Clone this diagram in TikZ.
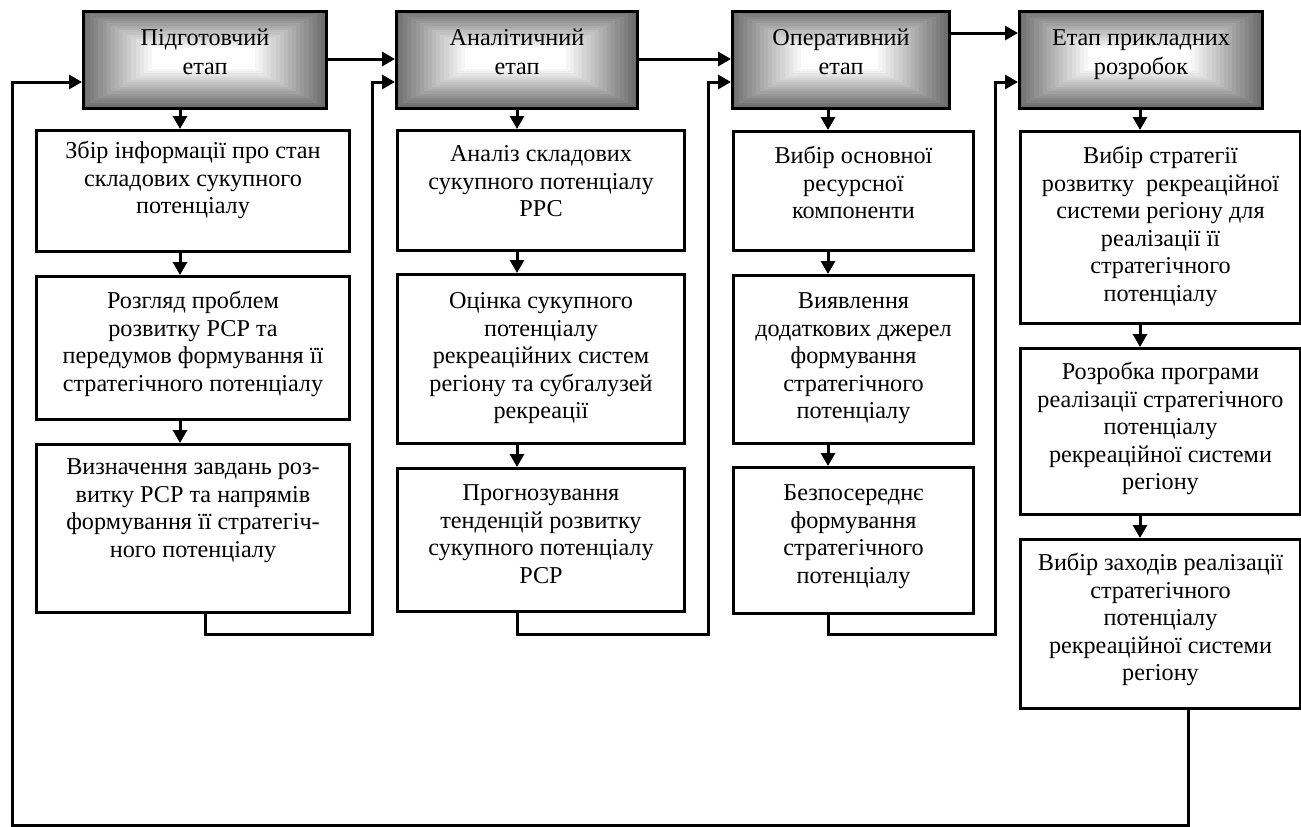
\documentclass[tikz,border=0pt]{standalone}
\usepackage{fontspec}
\setmainfont{Liberation Serif}
\usetikzlibrary{arrows.meta}
\newcommand\boxtext[4]{\parbox[c][#2][t]{#1}{\centering\rule{0pt}{#3}#4\par}}
\newcommand\hshade[4]{%
  \foreach \i in {0,...,17}{%
    \pgfmathsetmacro\myt{\i/17}%
    \pgfmathsetmacro\myc{57*(1-\myt)}%
    \fill[black!\myc] ({#1+70*\myt},{#2+38*\myt}) rectangle ({#3-70*\myt},{#4-38*\myt});
  }}
\tikzset{
  cbox/.style={draw, line width=3pt, inner sep=0pt, anchor=north west, fill=white,
    font=\fontsize{24.2}{27.6}\selectfont},
  hbox/.style={draw, line width=3pt, inner sep=0pt, anchor=north west,
    font=\fontsize{24.2}{29}\selectfont},
  arr/.style={line width=3pt, -{Triangle[length=13pt,width=14pt]}},
}
\begin{document}
\begin{tikzpicture}[x=1pt,y=-1pt]
\useasboundingbox (0,0) rectangle (1301,827);
\fill[white] (0,0) rectangle (1301,827);

% header shading
\hshade{82}{10}{325}{107}
\hshade{395}{10}{636}{107}
\hshade{731}{10}{948}{107}
\hshade{1018}{10}{1261}{107}

% headers
\node[hbox] (H1) at (82,10) {\boxtext{243pt}{97pt}{34pt}{Підготовчий\\етап}};
\node[hbox] (H2) at (395,10) {\boxtext{241pt}{97pt}{34pt}{Аналітичний\\етап}};
\node[hbox] (H3) at (731,10) {\boxtext{217pt}{97pt}{34pt}{Оперативний\\етап}};
\node[hbox] (H4) at (1018,10) {\boxtext{243pt}{97pt}{34pt}{Етап прикладних\\розробок}};

% column 1
\node[cbox] (B11) at (35,129) {\boxtext{313pt}{121pt}{28pt}{Збір інформації про стан\\складових сукупного\\потенціалу}};
\node[cbox] (B12) at (35,275) {\boxtext{313pt}{143pt}{32pt}{Розгляд проблем\\розвитку РСР та\\передумов формування її\\стратегічного потенціалу}};
\node[cbox] (B13) at (35,443) {\boxtext{313pt}{168pt}{30pt}{Визначення завдань роз-\\витку РСР та напрямів\\формування її стратегіч-\\ного потенціалу}};

% column 2
\node[cbox] (B21) at (396,129) {\boxtext{287pt}{120pt}{31pt}{Аналіз складових\\сукупного потенціалу\\РРС}};
\node[cbox] (B22) at (396,273) {\boxtext{287pt}{169pt}{34pt}{Оцінка сукупного\\потенціалу\\рекреаційних систем\\регіону та субгалузей\\рекреації}};
\node[cbox] (B23) at (396,467) {\boxtext{287pt}{143pt}{32pt}{Прогнозування\\тенденцій розвитку\\сукупного потенціалу\\РСР}};

% column 3
\node[cbox] (B31) at (732,130) {\boxtext{240pt}{119pt}{32pt}{Вибір основної\\ресурсної\\компоненти}};
\node[cbox] (B32) at (732,274) {\boxtext{240pt}{168pt}{33pt}{Виявлення\\додаткових джерел\\формування\\стратегічного\\потенціалу}};
\node[cbox] (B33) at (732,466) {\boxtext{240pt}{146pt}{33pt}{Безпосереднє\\формування\\стратегічного\\потенціалу}};

% column 4
\node[cbox] (B41) at (1019,130) {\boxtext{280pt}{192pt}{32pt}{Вибір стратегії\\розвитку\ \ рекреаційної\\системи регіону для\\реалізації її\\стратегічного\\потенціалу}};
\node[cbox] (B42) at (1019,347) {\boxtext{280pt}{166pt}{31pt}{Розробка програми\\реалізації стратегічного\\потенціалу\\рекреаційної системи\\регіону}};
\node[cbox] (B43) at (1019,538) {\boxtext{280pt}{169pt}{31pt}{Вибір заходів реалізації\\стратегічного\\потенціалу\\рекреаційної системи\\регіону}};

% helper coordinates
\coordinate (a1) at (180,0);
\coordinate (a2) at (517,0);
\coordinate (a3) at (828,0);
\coordinate (a4) at (1140,0);
\coordinate (r59) at (0,59);
\coordinate (r33) at (0,33);

% header to header
\draw[arr] (H1.east |- r59) -- (H2.west |- r59);
\draw[arr] (H2.east |- r59) -- (H3.west |- r59);
\draw[arr] (H3.east |- r33) -- (H4.west |- r33);

% vertical arrows
\draw[arr] (H1.south -| a1) -- (B11.north -| a1);
\draw[arr] (B11.south -| a1) -- (B12.north -| a1);
\draw[arr] (B12.south -| a1) -- (B13.north -| a1);
\draw[arr] (H2.south -| a2) -- (B21.north -| a2);
\draw[arr] (B21.south -| a2) -- (B22.north -| a2);
\draw[arr] (B22.south -| a2) -- (B23.north -| a2);
\draw[arr] (H3.south -| a3) -- (B31.north -| a3);
\draw[arr] (B31.south -| a3) -- (B32.north -| a3);
\draw[arr] (B32.south -| a3) -- (B33.north -| a3);
\draw[arr] (H4.south -| a4) -- (B41.north -| a4);
\draw[arr] (B41.south -| a4) -- (B42.north -| a4);
\draw[arr] (B42.south -| a4) -- (B43.north -| a4);

% feedback connectors
\coordinate (d1) at (205,634);
\coordinate (u1) at (372,82);
\coordinate (d2) at (517,634);
\coordinate (u2) at (708,82);
\coordinate (d3) at (828,634);
\coordinate (u3) at (995,82);
\coordinate (d4) at (1188,825.5);
\coordinate (u4) at (12,82);
\draw[arr] (B13.south -| d1) -- (d1) -| (u1) -- (H2.west |- u1);
\draw[arr] (B23.south -| d2) -- (d2) -| (u2) -- (H3.west |- u2);
\draw[arr] (B33.south -| d3) -- (d3) -| (u3) -- (H4.west |- u3);
\draw[arr] (B43.south -| d4) -- (d4) -| (u4) -- (H1.west |- u4);
\end{tikzpicture}
\end{document}
